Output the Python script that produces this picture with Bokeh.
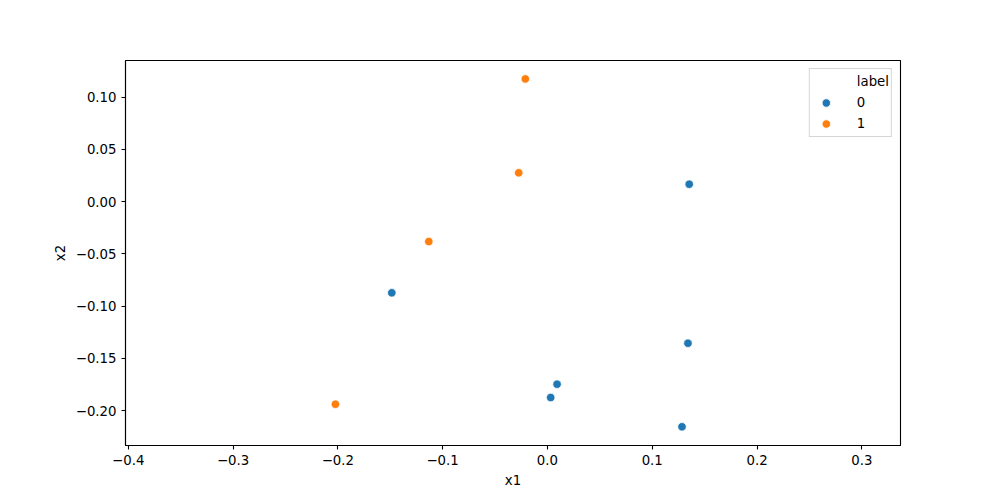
from bokeh.plotting import figure
from bokeh.models import Range1d, FixedTicker, Legend, LegendItem, ColumnDataSource
from bokeh.embed import file_html
from bokeh.resources import INLINE

# ---- data ----
x1_label0 = [0.1353, -0.1485, 0.1341, 0.0092, 0.0031, 0.1284]
x2_label0 = [0.0166, -0.0874, -0.1356, -0.1748, -0.1876, -0.2156]
x1_label1 = [-0.0211, -0.0274, -0.1132, -0.2023]
x2_label1 = [0.1174, 0.0275, -0.0383, -0.1940]

x_ticks = [-0.4, -0.3, -0.2, -0.1, 0.0, 0.1, 0.2, 0.3]
y_ticks = [-0.20, -0.15, -0.10, -0.05, 0.00, 0.05, 0.10]
legend_labels = ["label", "0", "1"]

FONT = "DejaVu Sans"
FS = "13.3px"
W, H = 992, 492

p = figure(width=W, height=H, output_backend="svg", toolbar_location=None,
           x_range=Range1d(-0.4026, 0.3369), y_range=Range1d(-0.2335, 0.135),
           min_border_left=125, min_border_right=W - 900,
           min_border_top=60, min_border_bottom=H - 445)
p.xgrid.visible = False
p.ygrid.visible = False
p.outline_line_color = "black"
p.outline_line_width = 1.1
p.background_fill_color = "white"
p.border_fill_color = "white"

def fmt(v, nd):
    s = f"{v:.{nd}f}"
    return s.replace("-", "\u2212")

p.xaxis.ticker = FixedTicker(ticks=x_ticks)
p.xaxis.major_label_overrides = {t: fmt(t, 1) for t in x_ticks}
p.yaxis.ticker = FixedTicker(ticks=y_ticks)
p.yaxis.major_label_overrides = {t: fmt(t, 2) for t in y_ticks}

p.xaxis.axis_label = "x1"
p.yaxis.axis_label = "x2"
for ax in (p.xaxis, p.yaxis):
    ax.axis_label_text_font = FONT
    ax.axis_label_text_font_size = FS
    ax.axis_label_text_font_style = "normal"
    ax.axis_label_text_color = "black"
    ax.major_label_text_font = FONT
    ax.major_label_text_font_size = FS
    ax.major_label_text_color = "black"
    ax.minor_tick_line_color = None
    ax.major_tick_out = 4
    ax.major_tick_in = 0
    ax.major_tick_line_color = "black"
    ax.major_tick_line_width = 1.1
    ax.axis_line_color = "black"
    ax.axis_line_width = 1.1
    ax.major_label_standoff = 5
    ax.axis_label_standoff = 5

src0 = ColumnDataSource(dict(x=x1_label0, y=x2_label0))
src1 = ColumnDataSource(dict(x=x1_label1, y=x2_label1))
r0 = p.scatter("x", "y", source=src0, size=8.5, fill_color="#1f77b4",
               line_color="white", line_width=0.75)
r1 = p.scatter("x", "y", source=src1, size=8.5, fill_color="#ff7f0e",
               line_color="white", line_width=0.75)
rt = p.scatter(x=[], y=[], size=8, fill_alpha=0, line_alpha=0)

legend = Legend(items=[LegendItem(label=legend_labels[0], renderers=[rt]),
                       LegendItem(label=legend_labels[1], renderers=[r0]),
                       LegendItem(label=legend_labels[2], renderers=[r1])],
                location="top_right", margin=8, padding=2, spacing=0,
                glyph_width=28, glyph_height=21, label_height=21,
                label_standoff=17, label_text_font=FONT,
                label_text_font_size=FS, label_text_color="black",
                border_line_color="#cccccc", border_line_alpha=0.8,
                background_fill_alpha=0.8)
p.add_layout(legend)

open("out.html", "w").write(file_html(p, INLINE))
